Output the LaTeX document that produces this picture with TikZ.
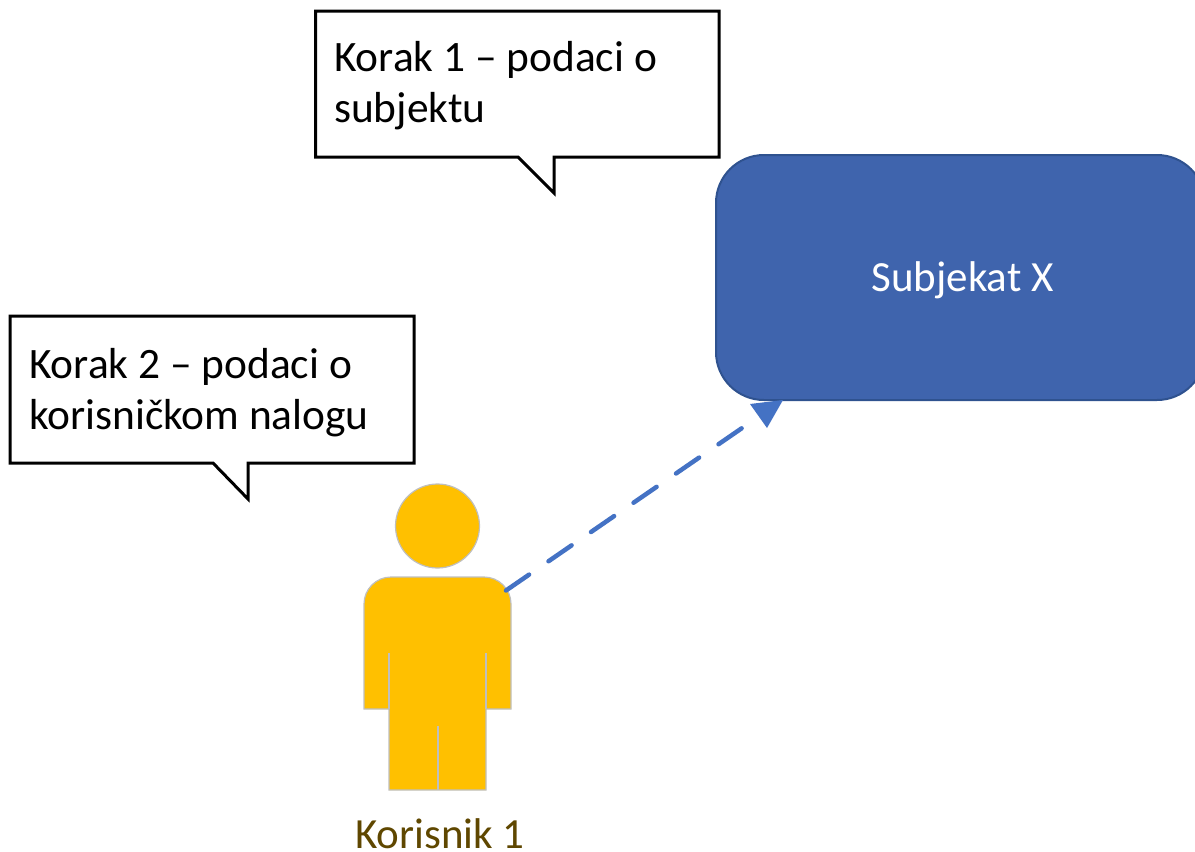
\documentclass[tikz,border=0pt]{standalone}
\usepackage{fontspec}
\setmainfont{Carlito}
\usepackage{tikz}
\usetikzlibrary{positioning}
\definecolor{boxblue}{HTML}{3F64AD}
\definecolor{boxedge}{HTML}{2F528F}
\definecolor{linkblue}{HTML}{4472C4}
\definecolor{useryellow}{HTML}{FFC000}
\definecolor{useredge}{HTML}{BFBFBF}
\definecolor{userbrown}{HTML}{5F4700}

\begin{document}
\begin{tikzpicture}[
x=1pt, y=-1pt,
subjectnode/.style={rectangle, draw=boxedge, line width=2pt, fill=boxblue, rounded corners=48pt, minimum width=489pt, minimum height=245pt, text=white, text height=32pt, text depth=5pt, font=\fontsize{43}{50}\selectfont},
calloutshape/.style={draw=black, line width=3pt, fill=white, line join=miter},
callouttext/.style={anchor=north west, inner sep=0pt, align=left, font=\fontsize{43.4}{51.5}\selectfont},
userpart/.style={draw=useredge, line width=1.2pt, fill=useryellow},
userline/.style={draw=useredge, line width=1.5pt},
linkline/.style={draw=linkblue, line width=4.5pt, line cap=round, dash pattern=on 28pt off 23.6pt},
]
\useasboundingbox (0,0) rectangle (1195,852);

%Nodes
\node[subjectnode]      (subject)      at (960.5,277.5) {\hspace*{4pt}Subjekat X};
\draw[calloutshape] (315.5,11) -- (719,11) -- (719,157) -- (554,157) -- (554,193) -- (518,157) -- (315.5,157) -- cycle;
\node[callouttext]      (step1)        at (334,41) {Korak 1 -- podaci o\\subjektu};
\draw[calloutshape] (10,316) -- (414,316) -- (414,463) -- (248,463) -- (248,499) -- (213,463) -- (10,463) -- cycle;
\node[callouttext]      (step2)        at (29,348) {Korak 2 -- podaci o\\korisničkom nalogu};

%Person
\node[userpart, circle, inner sep=0pt, minimum size=84pt] (head) at (437.5,526) {};
\draw[userpart] (364,709) [rounded corners=27pt] -- (364,577) -- (511,577) [sharp corners] -- (511,709) -- (486,709) -- (486,790) -- (389,790) -- (389,709) -- cycle;
\draw[userline] (389,653) -- (389,709);
\draw[userline] (486,653) -- (486,709);
\draw[userline] (438,726) -- (438,790);
\coordinate (shoulder) at (506,590.5);
\node[text=userbrown, font=\fontsize{43}{50}\selectfont, inner sep=0pt] (user) at (440,834) {Korisnik 1};

%Lines
\coordinate (linkend) at (745,426);
\draw[linkline] (shoulder) -- (linkend);
\fill[linkblue] (750,404) -- (783,400) -- (767,428) -- cycle;
\end{tikzpicture}
\end{document}
